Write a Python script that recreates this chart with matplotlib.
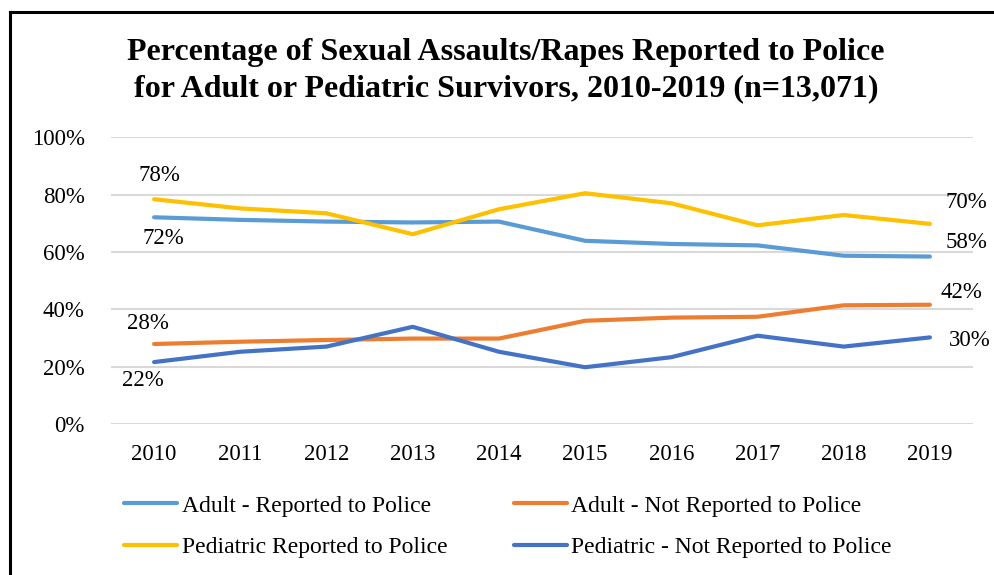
import matplotlib.pyplot as plt
from matplotlib.lines import Line2D

plt.rcParams['font.family'] = ['Liberation Serif', 'DejaVu Serif']

years = ['2010', '2011', '2012', '2013', '2014', '2015', '2016', '2017', '2018', '2019']
adult_rep = [72.1, 71.2, 70.6, 70.3, 70.6, 63.9, 62.8, 62.3, 58.7, 58.4]
adult_not = [27.9, 28.7, 29.3, 29.8, 29.8, 36.0, 37.1, 37.4, 41.4, 41.6]
ped_rep = [78.4, 75.2, 73.5, 66.2, 74.9, 80.5, 77.0, 69.3, 72.9, 69.8]
ped_not = [21.6, 25.2, 27.0, 33.9, 25.2, 19.8, 23.3, 30.8, 27.0, 30.2]

names = ['Adult - Reported to Police', 'Adult - Not Reported to Police',
         'Pediatric Reported to Police', 'Pediatric - Not Reported to Police']
colors = ['#5B9BD5', '#ED7D31', '#FFC000', '#4472C4']
series = [adult_rep, adult_not, ped_rep, ped_not]

fig = plt.figure(figsize=(9.95, 5.75), dpi=100)
ax = fig.add_axes([111 / 995, 1 - 424 / 575, 862 / 995, 286.7 / 575])

x = list(range(len(years)))
for i in range(4):
    ax.plot(x, series[i], color=colors[i], lw=3, solid_capstyle='round',
            solid_joinstyle='round', zorder=3)

ax.set_xlim(-0.5, 9.5)
ax.set_ylim(0, 100)
ax.set_yticks([0, 20, 40, 60, 80, 100])
ax.set_yticklabels(['0%', '20%', '40%', '60%', '80%', '100%'])
ax.set_xticks(x)
ax.set_xticklabels(years)
ax.tick_params(axis='y', length=0, pad=19, labelsize=16.5)
ax.tick_params(axis='x', length=0, pad=14.5, labelsize=16.5)
ax.grid(axis='y', color='#D9D9D9', lw=1.5)
ax.set_axisbelow(True)
for s in ax.spines.values():
    s.set_visible(False)

# data labels at first and last point (offsets in points)
first = [(7.0, -15.5), (-4.2, 14.5), (4.1, 17), (-8.1, -13.5)]
last = [(26.5, 10.3), (22.5, 8.8), (26.5, 15.5), (29.0, -2)]
for i, vals in enumerate(series):
    ax.annotate(f'{round(vals[0])}%', (0, vals[0]), xytext=first[i],
                textcoords='offset points', ha='center', va='center', fontsize=16.5)
    ax.annotate(f'{round(vals[-1])}%', (9, vals[-1]), xytext=last[i],
                textcoords='offset points', ha='center', va='center', fontsize=16.5)

fig.text(506 / 995, 1 - 71 / 575,
         'Percentage of Sexual Assaults/Rapes Reported to Police\n'
         'for Adult or Pediatric Survivors, 2010-2019 (n=13,071)',
         ha='center', va='center', fontsize=23, fontweight='bold', linespacing=1.33)

# legend fills by column, so reorder to get excel's row layout
order = [0, 2, 1, 3]
handles = [Line2D([], [], color=colors[i], lw=3, solid_capstyle='round') for i in order]
fig.legend(handles, [names[i] for i in order], ncol=2, loc='upper left',
           bbox_to_anchor=(124 / 995, 1 - 495 / 575),
           frameon=False, fontsize=17, handlelength=2.25, handletextpad=0.2,
           columnspacing=2.8, labelspacing=0.85, borderpad=0, borderaxespad=0)

# outer chart border (right/bottom edges fall outside the image)
fig.add_artist(Line2D([9.5 / 995, 9.5 / 995], [0, 1 - 11.5 / 575], color='black', lw=2.2,
                      transform=fig.transFigure, solid_capstyle='projecting'))
fig.add_artist(Line2D([9.5 / 995, 1], [1 - 11.5 / 575, 1 - 11.5 / 575], color='black', lw=2.2,
                      transform=fig.transFigure, solid_capstyle='projecting'))

fig.savefig('out.png', dpi=100)
